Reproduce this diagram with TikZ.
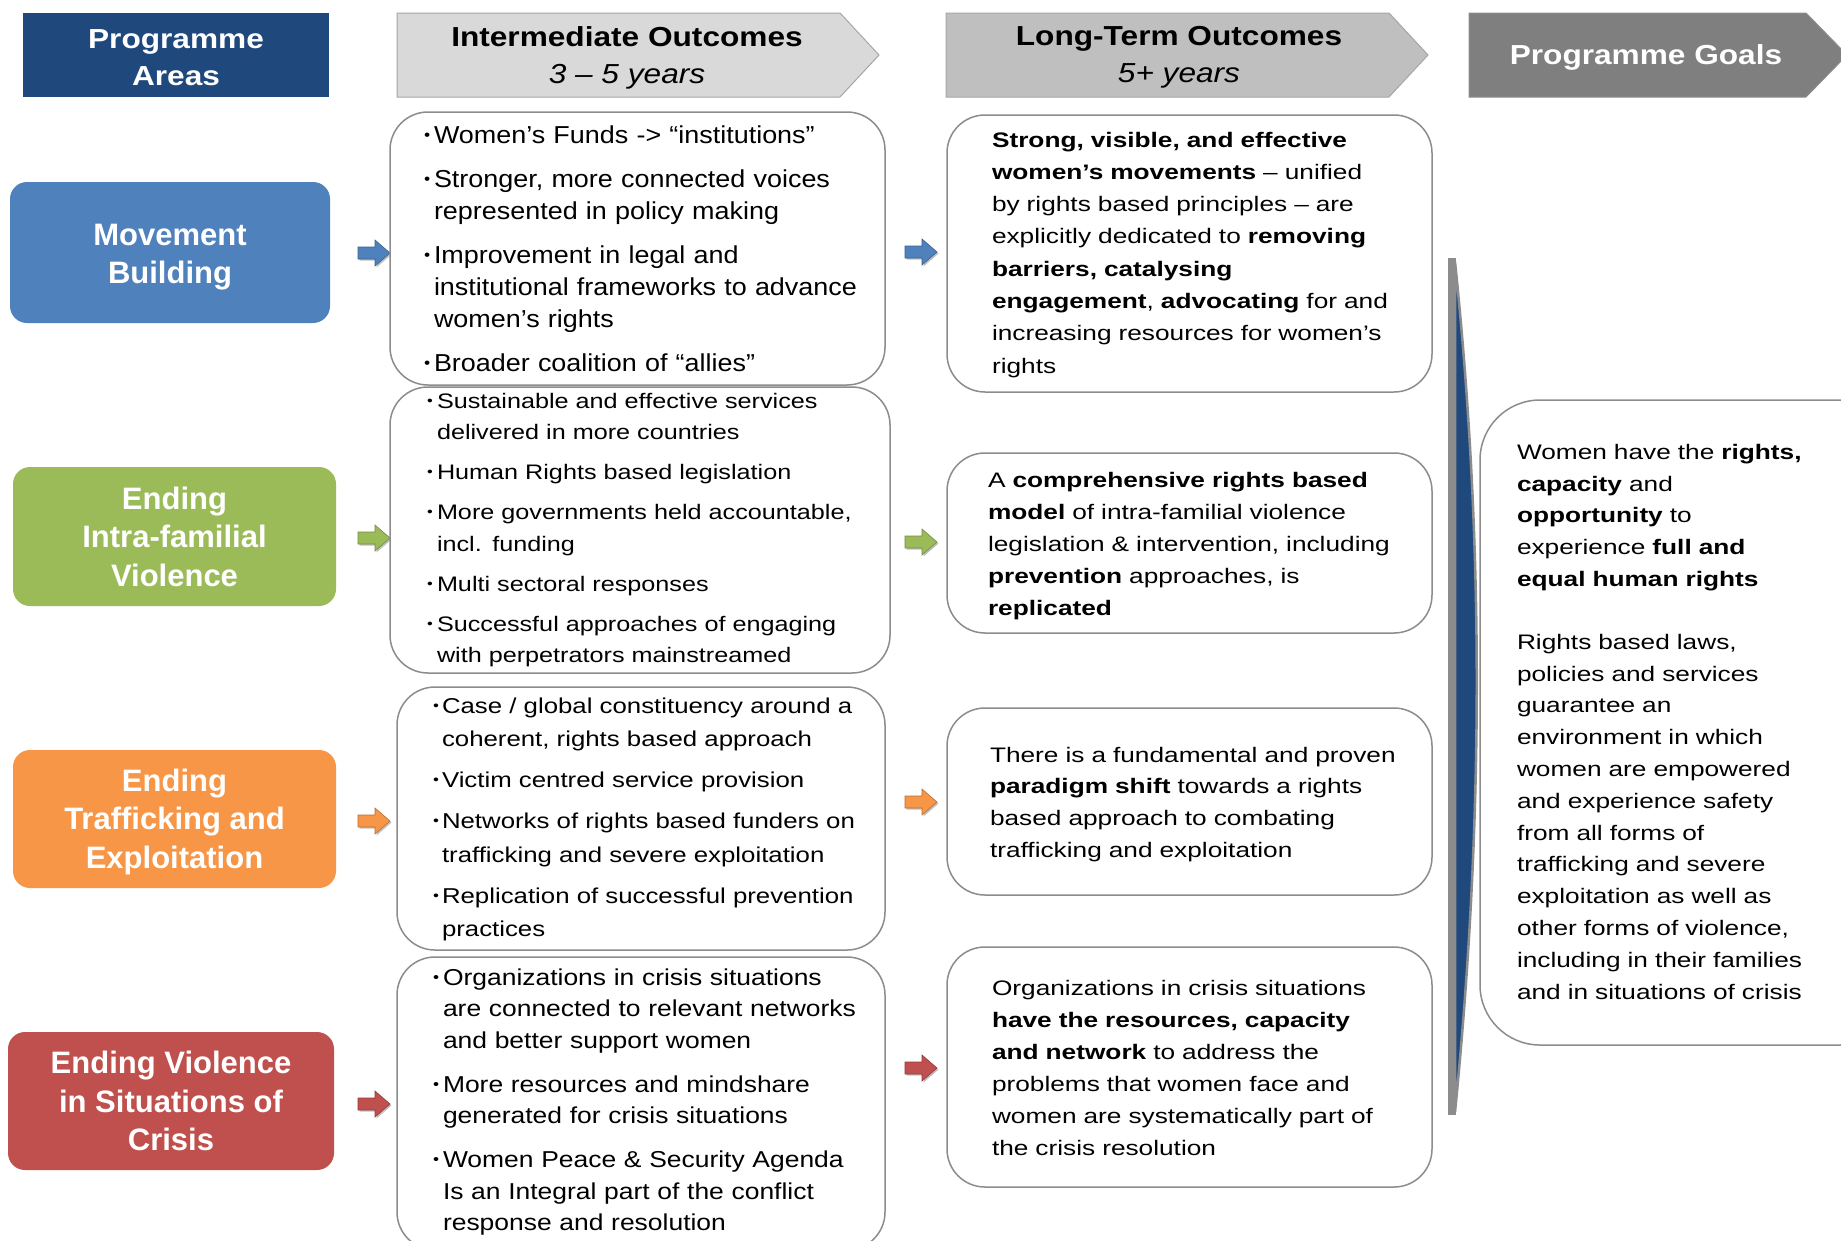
\documentclass[tikz,border=0pt]{standalone}
\usepackage{fontspec}
\usepackage{graphicx}
\setmainfont{Liberation Sans}
\newfontfamily\fN{Liberation Sans}
\newfontfamily\fM[FakeStretch=1.1]{Liberation Sans}
\newfontfamily\fS[FakeStretch=1.15]{Liberation Sans}
\newfontfamily\fT[FakeStretch=1.2]{Liberation Sans}
\newfontfamily\fU[FakeStretch=1.25]{Liberation Sans}
\usetikzlibrary{shapes.arrows}

\definecolor{cNavy}{HTML}{1F497D}
\definecolor{cBlue}{HTML}{4F81BD}
\definecolor{cGreen}{HTML}{9BBB59}
\definecolor{cOrange}{HTML}{F79646}
\definecolor{cRed}{HTML}{C0504D}
\definecolor{cHa}{HTML}{D9D9D9}
\definecolor{cHb}{HTML}{BFBFBF}
\definecolor{cHc}{HTML}{7F7F7F}
\definecolor{cLine}{HTML}{8C8C8C}

\newcommand\nl{\unskip\hfil\break\ignorespaces}
\newcommand\bitem[2]{\hangindent=#1\hangafter=1\noindent\makebox[#1][l]{\raisebox{.12em}{\scalebox{.65}{•}}}#2\par}
\newcommand\fst{\rule{0pt}{0.8em}}
\newcommand\barrow[3]{%
  \begin{scope}[shift={(#1,#2)}]
  \fill[black!25, shift={(1.5,1.5)}] (-16,-6) -- (1,-6) -- (1,-13) -- (16,0) -- (1,13) -- (1,6) -- (-16,6) -- cycle;
  \filldraw[fill=#3, draw=#3!75!black, line width=0.6pt] (-16,-6) -- (1,-6) -- (1,-13) -- (16,0) -- (1,13) -- (1,6) -- (-16,6) -- cycle;
  \end{scope}}

\begin{document}
\begin{tikzpicture}[x=1pt,y=-1pt,
  cbox/.style={draw=cLine, line width=1.5pt, rounded corners=38pt, fill=white, inner sep=0pt, outer sep=0pt, anchor=north west},
  pbox/.style={rounded corners=17pt, inner sep=0pt},
  ptext/.style={inner sep=0pt, text=white, align=center, font=\fN\bfseries\fontsize{31}{38.5}\selectfont},
  txt/.style={anchor=north west, inner sep=0pt, outer sep=0pt, text width=600pt, align=left},
  hdr/.style={align=center, inner sep=0pt, font=\fS\bfseries\fontsize{27.5}{37}\selectfont}]
\useasboundingbox (0,0) rectangle (1841,1240);
\clip (0,0) rectangle (1841,1240);
\fill[white] (0,0) rectangle (1841,1240);

% header row
\node[fill=cNavy, minimum width=306pt, minimum height=84pt, inner sep=0pt] (hpa) at (176,55) {};
\node[hdr, text=white] (hpat) at (176,57.5) {Programme\\Areas};
\filldraw[fill=cHa, draw=black!35, line width=1pt] (397,13) -- (840,13) -- (879,55) -- (840,97) -- (397,97) -- cycle;
\node[hdr] (hio) at (627,57.5) {Intermediate Outcomes\\{\mdseries\itshape 3 – 5 years}};
\filldraw[fill=cHb, draw=black!35, line width=1pt] (946,13) -- (1389,13) -- (1428,55) -- (1389,97) -- (946,97) -- cycle;
\node[hdr] (hlt) at (1179,57.5) {Long-Term Outcomes\\{\mdseries\itshape 5+ years}};
\filldraw[fill=cHc, draw=black!45, line width=1pt] (1469,13) -- (1806,13) -- (1847,55) -- (1806,97) -- (1469,97) -- cycle;
\node[hdr, text=white] (hpg) at (1646,57.5) {Programme Goals};

% programme areas
\node[pbox, fill=cBlue, minimum width=320pt, minimum height=141pt] (mb) at (170,252.5) {};
\node[ptext] (mbt) at (170,257) {Movement\\Building};
\node[pbox, fill=cGreen, minimum width=323pt, minimum height=139pt] (ifv) at (174.5,536.5) {};
\node[ptext] (ifvt) at (174.5,536.5) {Ending\\Intra-familial\\Violence};
\node[pbox, fill=cOrange, minimum width=323pt, minimum height=138pt] (tre) at (174.5,819) {};
\node[ptext] (tret) at (174.5,821.5) {Ending\\Trafficking and\\Exploitation};
\node[pbox, fill=cRed, minimum width=326pt, minimum height=138pt] (vsc) at (171,1101) {};
\node[ptext] (vsct) at (171,1101) {Ending Violence\\in Situations of\\Crisis};

% block arrows
\barrow{374}{253}{cBlue}
\barrow{374}{538}{cGreen}
\barrow{374}{821}{cOrange}
\barrow{374}{1104}{cRed}
\barrow{921}{252}{cBlue}
\barrow{921}{542}{cGreen}
\barrow{921}{802}{cOrange}
\barrow{921}{1068}{cRed}

% intermediate outcome boxes
\node[cbox, minimum width=495pt, minimum height=273pt] (io1) at (390,112) {};
\node[cbox, minimum width=500pt, minimum height=286pt] (io2) at (390,387) {};
\node[cbox, minimum width=488pt, minimum height=263pt] (io3) at (397,687) {};
\node[cbox, minimum width=488pt, minimum height=293pt] (io4) at (397,957) {};

\node[txt, font=\fM\fontsize{24.5}{32}\selectfont] (io1t) at (424,123.4) {\setlength\parskip{12pt}%
\bitem{10pt}{\fst Women’s Funds -> “institutions”}
\bitem{10pt}{Stronger, more connected voices\nl represented in policy making}
\bitem{10pt}{Improvement in legal and\nl institutional frameworks to advance\nl women’s rights}
\bitem{10pt}{Broader coalition of “allies”}};

\node[txt, font=\fT\fontsize{21}{31.5}\selectfont] (io2t) at (427,391.2) {\setlength\parskip{8.5pt}%
\bitem{10pt}{\fst Sustainable and effective services\nl delivered in more countries}
\bitem{10pt}{Human Rights based legislation}
\bitem{10pt}{More governments held accountable,\nl incl. funding}
\bitem{10pt}{Multi sectoral responses}
\bitem{10pt}{Successful approaches of engaging\nl with perpetrators mainstreamed}};

\node[txt, font=\fT\fontsize{21.5}{33.5}\selectfont] (io3t) at (433,695.8) {\setlength\parskip{7.5pt}%
\bitem{9pt}{\fst Case / global constituency around a\nl coherent, rights based approach}
\bitem{9pt}{Victim centred service provision}
\bitem{9pt}{Networks of rights based funders on\nl trafficking and severe exploitation}
\bitem{9pt}{Replication of successful prevention\nl practices}};

\node[txt, font=\fS\fontsize{23}{31.5}\selectfont] (io4t) at (433,966.6) {\setlength\parskip{12.5pt}%
\bitem{10pt}{\fst Organizations in crisis situations\nl are connected to relevant networks\nl and better support women}
\bitem{10pt}{More resources and mindshare\nl generated for crisis situations}
\bitem{10pt}{Women Peace \& Security Agenda\nl Is an Integral part of the conflict\nl response and resolution}};

% long-term outcome boxes
\node[cbox, minimum width=485pt, minimum height=277pt] (lt1) at (947,115) {};
\node[cbox, minimum width=485pt, minimum height=180pt] (lt2) at (947,453) {};
\node[cbox, minimum width=485pt, minimum height=187pt] (lt3) at (947,708) {};
\node[cbox, minimum width=485pt, minimum height=240pt] (lt4) at (947,947) {};

\node[txt, font=\fU\fontsize{21}{32.3}\selectfont] (lt1t) at (992,130.2) {\fst\textbf{Strong, visible, and effective}\nl
\textbf{women’s movements} – unified\nl
by rights based principles – are\nl
explicitly dedicated to \textbf{removing}\nl
\textbf{barriers, catalysing}\nl
\textbf{engagement}, \textbf{advocating} for and\nl
increasing resources for women’s\nl
rights};

\node[txt, font=\fU\fontsize{21}{32}\selectfont] (lt2t) at (988,470.2) {\fst A \textbf{comprehensive rights based}\nl
\textbf{model} of intra-familial violence\nl
legislation \& intervention, including\nl
\textbf{prevention} approaches, is\nl
\textbf{replicated}};

\node[txt, font=\fU\fontsize{21}{31.7}\selectfont] (lt3t) at (990,745.2) {\fst There is a fundamental and proven\nl
\textbf{paradigm shift} towards a rights\nl
based approach to combating\nl
trafficking and exploitation};

\node[txt, font=\fU\fontsize{21}{32}\selectfont] (lt4t) at (992,978.2) {\fst Organizations in crisis situations\nl
\textbf{have the resources, capacity}\nl
\textbf{and network} to address the\nl
problems that women face and\nl
women are systematically part of\nl
the crisis resolution};

% vertical bar
\fill[cLine] (1448,258) rectangle (1456,1115);
\filldraw[fill=cNavy, draw=black!45, line width=2.5pt, line join=round] (1455,262) .. controls (1484,540) and (1484,820) .. (1455,1112) -- cycle;

% goal box
\node[cbox, rounded corners=60pt, minimum width=420pt, minimum height=645pt] (goal) at (1480,400) {};
\node[txt, font=\fU\fontsize{21}{31.8}\selectfont] (goalt) at (1517,442.5) {\fst Women have the \textbf{rights,}\nl
\textbf{capacity} and\nl
\textbf{opportunity} to\nl
experience \textbf{full and}\nl
\textbf{equal human rights}\par\vspace{31pt}\noindent
Rights based laws,\nl
policies and services\nl
guarantee an\nl
environment in which\nl
women are empowered\nl
and experience safety\nl
from all forms of\nl
trafficking and severe\nl
exploitation as well as\nl
other forms of violence,\nl
including in their families\nl
and in situations of crisis};
\end{tikzpicture}
\end{document}
